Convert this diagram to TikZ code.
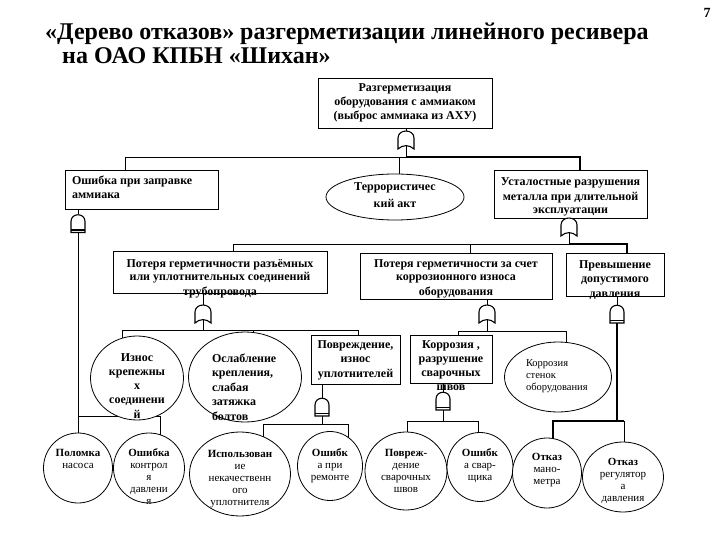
\documentclass[tikz,border=0pt]{standalone}
\usepackage{fontspec}
\setmainfont{Liberation Serif}
\usetikzlibrary{shapes.geometric,backgrounds}
\pgfdeclarelayer{paper}
\pgfsetlayers{paper,background,main}
\newcommand\mytc[2]{\makebox[0pt][c]{\raisebox{#1}[0pt][0pt]{\begin{tabular}[t]{@{}c@{}}#2\end{tabular}}}}
\newcommand\mytl[3]{\makebox[0pt][l]{\hspace*{#1}\raisebox{#2}[0pt][0pt]{\begin{tabular}[t]{@{}l@{}}#3\end{tabular}}}}
\tikzset{
  rbox/.style={draw, line width=0.8pt, fill=white, inner sep=0pt, outer sep=0pt},
  ellnode/.style={ellipse, draw, line width=0.8pt, fill=white, inner sep=0pt, outer sep=0pt},
  ln/.style={line width=0.8pt},
  tk/.style={line width=2.6pt},
  gateline/.style={line width=1.1pt},
  bf/.style={font=\fontsize{12}{14}\selectfont\bfseries},
  bfw/.style={font=\fontsize{12}{14.5}\selectfont\bfseries},
  cf/.style={font=\fontsize{11}{12}\selectfont},
  kf/.style={font=\fontsize{10.5}{12}\selectfont},
  pics/orgate/.style={code={
    \draw[gateline, fill=white] (-8,9) -- (-8,-2) .. controls (-8,-11.3) and (8,-11.3) .. (8,-2) -- (8,9) .. controls (3,4.5) and (-3,4.5) .. cycle;
    \coordinate (-top) at (0,-9);
    \coordinate (-bot) at (0,6);
  }},
  pics/andgate/.style={code={
    \draw[gateline, fill=white] (-7,9) -- (-7,-2) .. controls (-7,-11) and (7,-11) .. (7,-2) -- (7,9) -- cycle;
    \draw[gateline] (-7,6.5) -- (7,6.5);
    \coordinate (-top) at (0,-9);
    \coordinate (-bot) at (0,9);
  }},
}
\begin{document}
\begin{tikzpicture}[x=1pt,y=-1pt]
\begin{pgfonlayer}{paper}
\fill[white] (0,0) rectangle (720,540);
\end{pgfonlayer}
\useasboundingbox (0,0) rectangle (720,540);

% title
\node[anchor=base west, inner sep=0, font=\fontsize{24}{24}\selectfont\bfseries] (t1) at (45,40) {«Дерево отказов» разгерметизации линейного ресивера};
\node[anchor=base west, inner sep=0, font=\fontsize{24}{24}\selectfont\bfseries] (t2) at (62,64) {на ОАО КПБН «Шихан»};
\node[anchor=base, inner sep=0, font=\fontsize{14}{14}\selectfont\bfseries] (pg) at (707,18) {7};

% level 1
\node[rbox, bf, minimum width=174pt, minimum height=50pt] (root) at (405,103)
  {\mytc{11pt}{Разгерметизация\\оборудования с аммиаком\\(выброс аммиака из АХУ)}};
% level 2
\node[rbox, bf, minimum width=153pt, minimum height=39pt] (A) at (141.5,189.5)
  {\mytl{-69.5pt}{4.5pt}{Ошибка при заправке\\аммиака}};
\node[ellnode, font=\fontsize{12}{16}\selectfont\bfseries, minimum width=138pt, minimum height=46pt] (T) at (395,197)
  {\mytc{6pt}{Террористичес\\кий акт}};
\node[rbox, bf, minimum width=153pt, minimum height=48pt] (C) at (570.5,194)
  {\mytc{8pt}{Усталостные разрушения\\металла при длительной\\эксплуатации}};
% level 3
\node[rbox, bf, minimum width=214pt, minimum height=42pt] (D) at (220,272)
  {\mytc{5pt}{Потеря герметичности разъёмных\\или уплотнительных соединений\\трубопровода}};
\node[rbox, bf, minimum width=192pt, minimum height=46pt] (E) at (456,276)
  {\mytc{9pt}{Потеря герметичности за счет\\коррозионного износа\\оборудования}};
\node[rbox, bfw, minimum width=98pt, minimum height=43pt] (F) at (615,274.5)
  {\mytc{6.5pt}{Превышение\\допустимого\\давления}};
% level 4
\node[ellnode, font=\fontsize{12}{14.3}\selectfont\bfseries, minimum width=93pt, minimum height=84pt] (I1) at (137,378)
  {\mytc{17pt}{Износ\\крепежны\\х\\соединени\\й}};
\node[ellnode, bfw, minimum width=113pt, minimum height=90pt] (I2) at (245,377)
  {\mytl{-33pt}{15pt}{Ослабление\\крепления,\\слабая\\затяжка\\болтов}};
\node[rbox, bfw, minimum width=89pt, minimum height=49pt] (B1) at (355.5,359.5)
  {\mytc{11.5pt}{Повреждение,\\износ\\уплотнителей}};
\node[rbox, bf, minimum width=82pt, minimum height=48pt] (B2) at (451,359)
  {\mytc{11pt}{Коррозия ,\\разрушение\\сварочных\\швов}};
\node[ellnode, kf, minimum width=107pt, minimum height=70pt] (K) at (558,377)
  {\mytl{-32pt}{10.5pt}{Коррозия\\стенок\\оборудования}};
% level 5
\node[ellnode, cf, minimum width=69pt, minimum height=70pt] (P1) at (78,468)
  {\mytc{11.5pt}{\textbf{Поломка}\\насоса}};
\node[ellnode, cf, minimum width=71pt, minimum height=70pt] (P2) at (149,468)
  {\mytc{11.5pt}{\textbf{Ошибка}\\контрол\\я\\давлени\\я}};
\node[ellnode, cf, minimum width=101pt, minimum height=84pt] (U) at (240,474)
  {\mytc{16.5pt}{\textbf{Использован}\\ие\\некачественн\\ого\\уплотнителя}};
\node[ellnode, cf, minimum width=65pt, minimum height=69pt] (R) at (330,466)
  {\mytc{9.5pt}{\textbf{Ошибк}\\а при\\ремонте}};
\node[ellnode, cf, minimum width=82pt, minimum height=78pt] (S1) at (406,471)
  {\mytc{14.5pt}{\textbf{Повреж-}\\дение\\сварочных\\швов}};
\node[ellnode, cf, minimum width=66pt, minimum height=69pt] (S2) at (480,467)
  {\mytc{10.5pt}{\textbf{Ошибк}\\а свар-\\щика}};
\node[ellnode, cf, minimum width=69pt, minimum height=70pt] (O1) at (547,473)
  {\mytc{12.5pt}{\textbf{Отказ}\\мано-\\метра}};
\node[ellnode, cf, minimum width=81pt, minimum height=70pt] (O2) at (623,477)
  {\mytc{11.5pt}{\textbf{Отказ}\\регулятор\\а\\давления}};

% gates
\pic (g0) at (406,140) {orgate};
\pic (gA) at (78,223.5) {andgate};
\pic (gC) at (569,227) {orgate};
\pic (gD) at (203,314) {orgate};
\pic (gE) at (487,314) {orgate};
\pic (gF) at (617,314) {andgate};
\pic (gB1) at (322,407) {andgate};
\pic (gB2) at (443,401) {andgate};

% bus coordinates
\coordinate (b1L) at (125,157); \coordinate (b1T) at (399,157); \coordinate (b1R) at (580,157);
\coordinate (pA) at (78,416); \coordinate (pB) at (160,416);
\coordinate (b2L) at (233,244); \coordinate (b2E) at (470,244); \coordinate (b2R) at (627,244);
\coordinate (b3L) at (122,330); \coordinate (b3M) at (253,330); \coordinate (b3R) at (358,330);
\coordinate (b4L) at (458,331); \coordinate (b4R) at (566,331);
\coordinate (b7L) at (553,421); \coordinate (b7R) at (624,421);
\coordinate (b5L) at (263,424); \coordinate (b5R) at (348,424);
\coordinate (b6L) at (407,421); \coordinate (b6R) at (478,421);

\begin{pgfonlayer}{background}
% root
\draw[ln] (root.south -| g0-top) -- (g0-top);
\draw[ln] (g0-bot) -- (g0-bot |- b1L);
\draw[ln] (b1L |- A.north) -- (b1L) -- (g0-bot |- b1L);
\draw[ln] (b1T) -- (b1T |- T.center);
\draw[tk, line join=miter] (g0-bot |- b1L) -- (b1R) -- (b1R |- C.north);
% A branch
\draw[ln] (A.south -| gA-top) -- (gA-top);
\draw[ln] (gA-bot) -- (P1.center);
\draw[ln] (pA) -- (pB) -- (pB |- P2.center);
% C branch
\draw[ln] (C.south -| gC-top) -- (gC-top);
\draw[ln] (gC-bot) -- (gC-bot |- b2L);
\draw[ln] (b2L |- D.north) -- (b2L) -- (gC-bot |- b2L);
\draw[ln] (b2E) -- (b2E |- E.north);
\draw[tk, line join=miter] (gC-bot |- b2L) -- (b2R) -- (b2R |- F.north);
% D branch
\draw[ln] (D.south -| gD-top) -- (gD-top);
\draw[ln] (gD-bot) -- (gD-bot |- b3L);
\draw[ln] (b3L |- I1.center) -- (b3L) -- (b3R) -- (b3R |- B1.north);
\draw[ln] (b3M) -- (b3M |- I2.center);
% E branch
\draw[ln] (E.south -| gE-top) -- (gE-top);
\draw[ln] (gE-bot) -- (gE-bot |- b4L);
\draw[ln] (b4L |- B2.north) -- (b4L) -- (b4R) -- (b4R |- K.center);
% F branch
\draw[ln] (F.south -| gF-top) -- (gF-top);
\draw[tk, line join=miter] (gF-bot) -- (gF-bot |- b7L);
\draw[tk, line join=miter] (b7L |- O1.center) -- (b7L) -- (b7R);
\draw[ln] (b7R) -- (b7R |- O2.center);
% B1 branch
\draw[ln] (B1.south -| gB1-top) -- (gB1-top);
\draw[ln] (gB1-bot) -- (gB1-bot |- b5L);
\draw[ln] (b5L |- U.center) -- (b5L) -- (b5R) -- (b5R |- R.center);
% B2 branch
\draw[ln] (B2.south -| gB2-top) -- (gB2-top);
\draw[ln] (gB2-bot) -- (gB2-bot |- b6L);
\draw[ln] (b6L |- S1.center) -- (b6L) -- (b6R) -- (b6R |- S2.center);
\end{pgfonlayer}
\end{tikzpicture}
\end{document}
